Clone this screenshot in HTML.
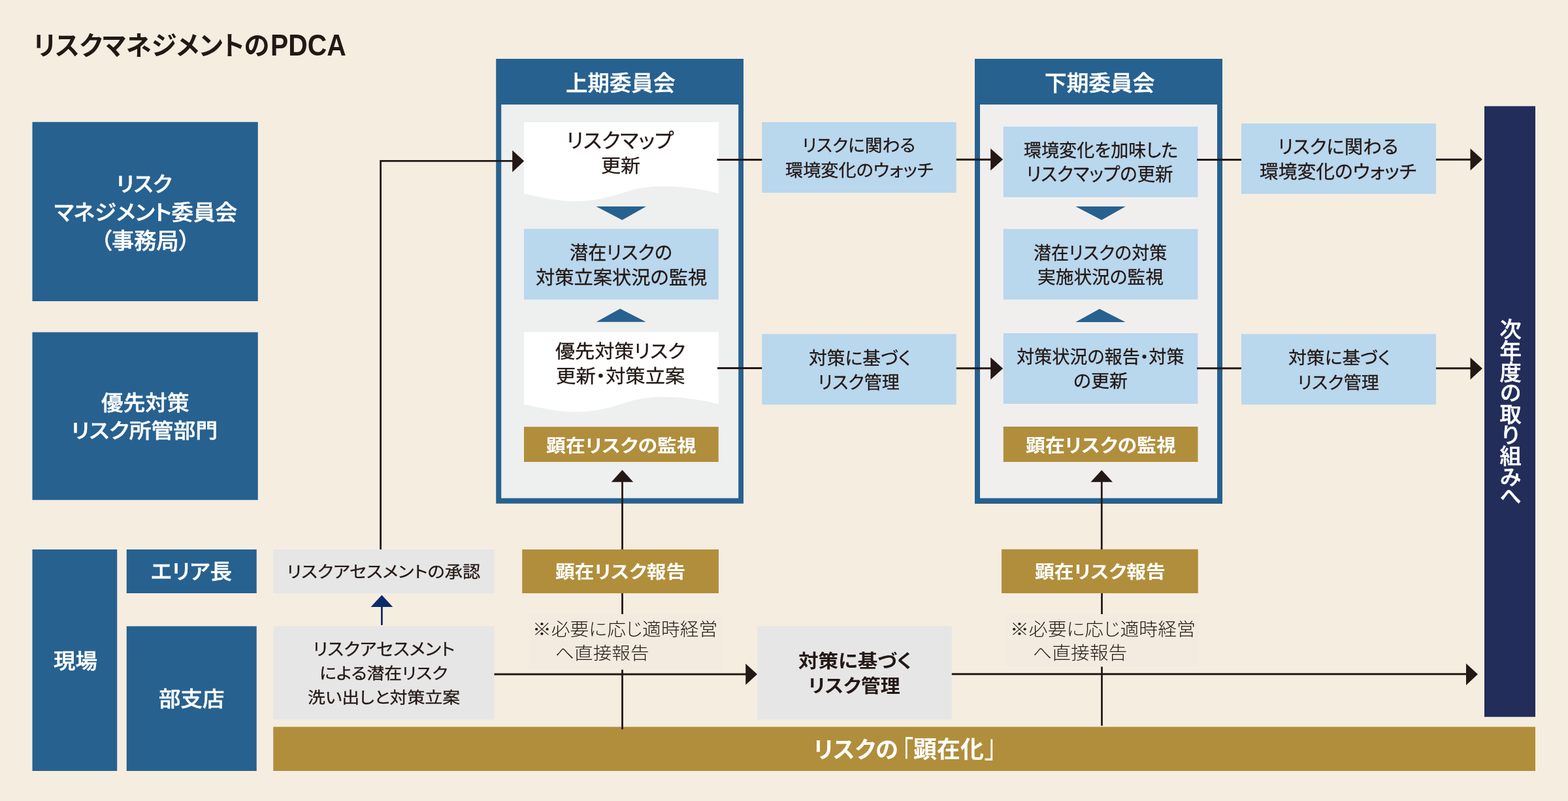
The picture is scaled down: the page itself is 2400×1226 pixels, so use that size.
<!DOCTYPE html>
<html lang="ja">
<head>
<meta charset="utf-8">
<title>リスクマネジメントのPDCA</title>
<style>
html,body{margin:0;padding:0;background:#f5ede0;}
body{width:2400px;height:1226px;overflow:hidden;position:relative;font-family:"Liberation Sans","Noto Sans CJK JP",sans-serif;}
#stage{will-change:transform;position:absolute;left:0;top:0;width:2400px;height:1226px;background:#f5ede0;overflow:hidden;}
#stage svg{position:absolute;left:0;top:0;}
.tb{margin:0;padding:0;font-size:16px;font-weight:400;}
.t{position:absolute;white-space:nowrap;line-height:1;transform-origin:0 0;font-feature-settings:"palt";margin:0;padding:0;}
.v{position:absolute;writing-mode:vertical-rl;white-space:nowrap;line-height:1;transform-origin:0 0;margin:0;padding:0;color:#fff;}

</style>
</head>
<body>
<div id="stage">
<svg width="2400" height="1226" viewBox="0 0 2400 1226" aria-hidden="true">
<rect x="49.5" y="186.75" width="345.25" height="274.25" fill="#27618f"/>
<rect x="49.5" y="508.5" width="345.25" height="256.75" fill="#27618f"/>
<rect x="49.5" y="841" width="129.75" height="339" fill="#27618f"/>
<rect x="193.75" y="841" width="199.0" height="67" fill="#27618f"/>
<rect x="193.75" y="958.5" width="199.0" height="221.5" fill="#27618f"/>
<rect x="418.25" y="841" width="338.25" height="67" fill="#e6e6e6"/>
<rect x="418.25" y="958.25" width="338.25" height="143.0" fill="#e6e6e6"/>
<rect x="1159.25" y="958.25" width="297.5" height="143.0" fill="#e6e6e6"/>
<rect x="799.25" y="841" width="300.75" height="67" fill="#b18e3c"/>
<rect x="1533" y="840.75" width="300.75" height="67.25" fill="#b18e3c"/>
<rect x="418.25" y="1112.5" width="1931.75" height="67.5" fill="#b18e3c"/>
<rect x="2272" y="162.5" width="78" height="934.75" fill="#222d5a"/>
<rect x="759.25" y="90" width="378.75" height="680.75" fill="#27618f"/>
<rect x="767.25" y="160" width="363.0" height="602.5" fill="#eeefef"/>
<rect x="1492" y="90" width="379" height="681" fill="#27618f"/>
<rect x="1500" y="160" width="363" height="602.5" fill="#f0efee"/>
<path fill="#fff" d="M802,187 H1100 V296 C1070.2,288.5 1040.4,285 1016.56,285 C974.84,285 956.96,295 939.08,299.5 C921.2,304 903.32,308 882.46,308 C852.66,308 825.84,301.5 802,296.5 Z"/>
<polygon points="912.5,316 989,316 952.4,336.8" fill="#27618f"/>
<rect x="802" y="350.25" width="297.75" height="108.25" fill="#b9d7ed"/>
<polygon points="912.6,492.8 988.8,492.8 949.2,472.6" fill="#27618f"/>
<path fill="#fff" d="M802,508.25 H1100 V618.5 C1070.2,611.0 1040.4,607.5 1016.56,607.5 C974.84,607.5 956.96,617.5 939.08,622.0 C921.2,626.5 903.32,630.5 882.46,630.5 C852.66,630.5 825.84,624.0 802,619.0 Z"/>
<rect x="802" y="653.25" width="297.75" height="53.75" fill="#b18e3c"/>
<rect x="1535.75" y="193.75" width="297.75" height="108.0" fill="#b9d7ed"/>
<polygon points="1646.25,316.1 1722.8,316.1 1686.2,336.8" fill="#27618f"/>
<rect x="1535.75" y="350.5" width="297.75" height="108.0" fill="#b9d7ed"/>
<polygon points="1646.3,492.9 1722.6,492.9 1683,472.8" fill="#27618f"/>
<rect x="1535.75" y="510" width="297.75" height="108" fill="#b9d7ed"/>
<rect x="1535.75" y="653" width="297.75" height="54" fill="#b18e3c"/>
<rect x="1166.25" y="187" width="297.5" height="108" fill="#b9d7ed"/>
<rect x="1166.25" y="511.25" width="297.5" height="108.0" fill="#b9d7ed"/>
<rect x="1900" y="189" width="298" height="107.75" fill="#b9d7ed"/>
<rect x="1900" y="511.25" width="298" height="108.0" fill="#b9d7ed"/>
<polyline points="582.6,841 582.6,246.45 785,246.45" fill="none" stroke="#231815" stroke-width="2.8" stroke-linejoin="miter"/>
<polygon points="784.2,229.9 802.2,246.6 784.2,263.4" fill="#231815"/>
<polyline points="1097.5,244.5 1166.25,244.5" fill="none" stroke="#231815" stroke-width="2.8" stroke-linejoin="miter"/>
<polyline points="1463.75,244.25 1517,244.25" fill="none" stroke="#231815" stroke-width="2.8" stroke-linejoin="miter"/>
<polygon points="1516.2,227.2 1535.1,244.1 1516.2,261" fill="#231815"/>
<polyline points="1832,244.5 1900,244.5" fill="none" stroke="#231815" stroke-width="2.8" stroke-linejoin="miter"/>
<polyline points="2198,244.25 2251,244.25" fill="none" stroke="#231815" stroke-width="2.8" stroke-linejoin="miter"/>
<polygon points="2250.5,227.2 2268.9,244.1 2250.5,261" fill="#231815"/>
<polyline points="1098,563.5 1166.25,563.5" fill="none" stroke="#231815" stroke-width="2.8" stroke-linejoin="miter"/>
<polyline points="1463.75,563.75 1517,563.75" fill="none" stroke="#231815" stroke-width="2.8" stroke-linejoin="miter"/>
<polygon points="1516.2,547 1535.1,564 1516.2,581" fill="#231815"/>
<polyline points="1832,563.75 1900,563.75" fill="none" stroke="#231815" stroke-width="2.8" stroke-linejoin="miter"/>
<polyline points="2198,563.75 2251,563.75" fill="none" stroke="#231815" stroke-width="2.8" stroke-linejoin="miter"/>
<polygon points="2250.5,547.2 2268.9,564.1 2250.5,581" fill="#231815"/>
<polyline points="952.5,841 952.5,737" fill="none" stroke="#231815" stroke-width="2.8" stroke-linejoin="miter"/>
<polygon points="935.75,737.75 969.25,737.75 952.5,719.25" fill="#231815"/>
<polyline points="1686.25,841 1686.25,737" fill="none" stroke="#231815" stroke-width="2.8" stroke-linejoin="miter"/>
<polygon points="1669.5,737.75 1703,737.75 1686.25,719.5" fill="#231815"/>
<polyline points="952.5,908 952.5,1116.25" fill="none" stroke="#231815" stroke-width="2.8" stroke-linejoin="miter"/>
<polyline points="1686.5,908 1686.5,1110.75" fill="none" stroke="#231815" stroke-width="2.8" stroke-linejoin="miter"/>
<polyline points="756.5,1032 1142,1032" fill="none" stroke="#231815" stroke-width="2.8" stroke-linejoin="miter"/>
<polygon points="1141.25,1015.75 1159,1032 1141.25,1048.25" fill="#231815"/>
<polyline points="1456.75,1031.75 2245,1031.75" fill="none" stroke="#231815" stroke-width="2.8" stroke-linejoin="miter"/>
<polygon points="2244,1015.5 2262,1032.1 2244,1048.75" fill="#231815"/>
<polyline points="584.4,956.8 584.4,928" fill="none" stroke="#0c2a6b" stroke-width="2.8" stroke-linejoin="miter"/>
<polygon points="567.5,929 601.25,929 584.4,910.75" fill="#0c2a6b"/>
<rect x="810" y="940" width="294.25" height="85" fill="#f3ebdf"/>
<rect x="1541.25" y="940" width="294.5" height="80.5" fill="#f3ebdf"/>
</svg>
<h1 class="tb" id="title">
<span class="t" id="t0" style="left:51.21px;top:49.69px;font-size:40.33px;font-weight:700;color:#231815;transform:scaleX(0.9711);">リスクマネジメントの</span>
<span class="t" id="t1" style="left:413.94px;top:46.59px;font-size:45.86px;font-weight:700;color:#231815;transform:scaleX(0.8905);">PDCA</span>
</h1>
<div class="tb" id="org1">
<span class="t" id="t2" style="left:177.69px;top:267.37px;font-size:31.59px;font-weight:500;color:#fff;transform:scaleX(1.0359);-webkit-text-stroke:0.5px #fff;">リスク</span>
<span class="t" id="t3" style="left:82.53px;top:309.99px;font-size:32.57px;font-weight:500;color:#fff;transform:scaleX(1.0279);-webkit-text-stroke:0.5px #fff;">マネジメント委員会</span>
<span class="t" id="t4" style="left:154.25px;top:352.31px;font-size:34.3px;font-weight:500;color:#fff;transform:scaleX(0.9965);-webkit-text-stroke:0.5px #fff;">（事務局）</span>
</div>
<div class="tb" id="org2">
<span class="t" id="t5" style="left:155.25px;top:602.21px;font-size:31.51px;font-weight:500;color:#fff;transform:scaleX(1.0682);-webkit-text-stroke:0.5px #fff;">優先対策</span>
<span class="t" id="t6" style="left:109.32px;top:643.78px;font-size:30.64px;font-weight:500;color:#fff;transform:scaleX(1.1068);-webkit-text-stroke:0.5px #fff;">リスク所管部門</span>
</div>
<div class="tb" id="genba">
<span class="t" id="t7" style="left:81.94px;top:997.25px;font-size:31.52px;font-weight:500;color:#fff;transform:scaleX(1.0658);-webkit-text-stroke:0.5px #fff;">現場</span>
</div>
<div class="tb" id="area">
<span class="t" id="t8" style="left:231.26px;top:860.2px;font-size:31.67px;font-weight:500;color:#fff;transform:scaleX(1.0547);-webkit-text-stroke:0.5px #fff;">エリア長</span>
</div>
<div class="tb" id="bushi">
<span class="t" id="t9" style="left:242.97px;top:1055.46px;font-size:31.47px;font-weight:500;color:#fff;transform:scaleX(1.0656);-webkit-text-stroke:0.5px #fff;">部支店</span>
</div>
<div class="tb" id="h1">
<span class="t" id="t10" style="left:865.86px;top:111.2px;font-size:33.09px;font-weight:500;color:#fff;transform:scaleX(1.0126);-webkit-text-stroke:0.5px #fff;">上期委員会</span>
</div>
<div class="tb" id="h2">
<span class="t" id="t11" style="left:1598.92px;top:110.81px;font-size:33.35px;font-weight:500;color:#fff;transform:scaleX(1.0105);-webkit-text-stroke:0.5px #fff;">下期委員会</span>
</div>
<div class="tb" id="f1a">
<span class="t" id="t12" style="left:867.13px;top:200.37px;font-size:30.48px;font-weight:400;color:#231815;transform:scaleX(1.0328);-webkit-text-stroke:0.3px #231815;">リスクマップ</span>
<span class="t" id="t13" style="left:919.55px;top:240.9px;font-size:27.91px;font-weight:400;color:#231815;transform:scaleX(1.0789);-webkit-text-stroke:0.3px #231815;">更新</span>
</div>
<div class="tb" id="f1b">
<span class="t" id="t14" style="left:872.0px;top:372.6px;font-size:28.56px;font-weight:400;color:#231815;transform:scaleX(0.9856);-webkit-text-stroke:0.3px #231815;">潜在リスクの</span>
<span class="t" id="t15" style="left:820.32px;top:410.93px;font-size:28.86px;font-weight:400;color:#231815;transform:scaleX(1.014);-webkit-text-stroke:0.3px #231815;">対策立案状況の監視</span>
</div>
<div class="tb" id="f1c">
<span class="t" id="t16" style="left:849.65px;top:524.06px;font-size:28.76px;font-weight:400;color:#231815;transform:scaleX(1.0476);-webkit-text-stroke:0.3px #231815;">優先対策リスク</span>
<span class="t" id="t17" style="left:851.1px;top:562.2px;font-size:28.89px;font-weight:400;color:#231815;transform:scaleX(1.052);-webkit-text-stroke:0.3px #231815;">更新・対策立案</span>
</div>
<div class="tb" id="f1d">
<span class="t" id="t18" style="left:836.03px;top:669.44px;font-size:27.75px;font-weight:700;color:#fff;transform:scaleX(1.0774);">顕在リスクの監視</span>
</div>
<div class="tb" id="w1">
<span class="t" id="t19" style="left:1227.82px;top:210.22px;font-size:26.27px;font-weight:400;color:#231815;transform:scaleX(1.0179);-webkit-text-stroke:0.3px #231815;">リスクに関わる</span>
<span class="t" id="t20" style="left:1201.76px;top:248.61px;font-size:25.66px;font-weight:400;color:#231815;transform:scaleX(1.058);-webkit-text-stroke:0.3px #231815;">環境変化のウォッチ</span>
</div>
<div class="tb" id="m1">
<span class="t" id="t21" style="left:1238.21px;top:535.11px;font-size:27.09px;font-weight:400;color:#231815;transform:scaleX(1.0264);-webkit-text-stroke:0.3px #231815;">対策に基づく</span>
<span class="t" id="t22" style="left:1252.08px;top:572.03px;font-size:27.13px;font-weight:400;color:#231815;transform:scaleX(0.9959);-webkit-text-stroke:0.3px #231815;">リスク管理</span>
</div>
<div class="tb" id="f2a">
<span class="t" id="t23" style="left:1567.04px;top:216.83px;font-size:27.25px;font-weight:400;color:#231815;transform:scaleX(0.9927);-webkit-text-stroke:0.3px #231815;">環境変化を加味した</span>
<span class="t" id="t24" style="left:1570.78px;top:252.93px;font-size:28.65px;font-weight:400;color:#231815;transform:scaleX(0.9583);-webkit-text-stroke:0.3px #231815;">リスクマップの更新</span>
</div>
<div class="tb" id="f2b">
<span class="t" id="t25" style="left:1582.16px;top:374.12px;font-size:27.73px;font-weight:400;color:#231815;transform:scaleX(0.9714);-webkit-text-stroke:0.3px #231815;">潜在リスクの対策</span>
<span class="t" id="t26" style="left:1587.85px;top:411.31px;font-size:27.72px;font-weight:400;color:#231815;transform:scaleX(0.9991);-webkit-text-stroke:0.3px #231815;">実施状況の監視</span>
</div>
<div class="tb" id="f2c">
<span class="t" id="t27" style="left:1556.02px;top:532.72px;font-size:27.64px;font-weight:400;color:#231815;transform:scaleX(0.9813);-webkit-text-stroke:0.3px #231815;">対策状況の報告・対策</span>
<span class="t" id="t28" style="left:1643.2px;top:569.96px;font-size:27.5px;font-weight:400;color:#231815;transform:scaleX(1.0192);-webkit-text-stroke:0.3px #231815;">の更新</span>
</div>
<div class="tb" id="f2d">
<span class="t" id="t29" style="left:1569.88px;top:668.46px;font-size:28.8px;font-weight:700;color:#fff;transform:scaleX(1.0395);">顕在リスクの監視</span>
</div>
<div class="tb" id="w2">
<span class="t" id="t30" style="left:1955.8px;top:211.08px;font-size:28.65px;font-weight:400;color:#231815;transform:scaleX(0.9923);-webkit-text-stroke:0.3px #231815;">リスクに関わる</span>
<span class="t" id="t31" style="left:1928.19px;top:248.83px;font-size:28.2px;font-weight:400;color:#231815;transform:scaleX(1.0198);-webkit-text-stroke:0.3px #231815;">環境変化のウォッチ</span>
</div>
<div class="tb" id="m2">
<span class="t" id="t32" style="left:1971.59px;top:534.95px;font-size:26.7px;font-weight:400;color:#231815;transform:scaleX(1.043);-webkit-text-stroke:0.3px #231815;">対策に基づく</span>
<span class="t" id="t33" style="left:1986.24px;top:572.78px;font-size:26.15px;font-weight:400;color:#231815;transform:scaleX(1.0332);-webkit-text-stroke:0.3px #231815;">リスク管理</span>
</div>
<div class="tb" id="g1">
<span class="t" id="t34" style="left:439.04px;top:864.07px;font-size:24.53px;font-weight:400;color:#231815;transform:scaleX(1.1115);-webkit-text-stroke:0.3px #231815;">リスクアセスメントの承認</span>
</div>
<div class="tb" id="g2">
<span class="t" id="t35" style="left:478.77px;top:982.22px;font-size:25.89px;font-weight:400;color:#231815;transform:scaleX(1.0616);-webkit-text-stroke:0.3px #231815;">リスクアセスメント</span>
<span class="t" id="t36" style="left:488.97px;top:1018.88px;font-size:24.23px;font-weight:400;color:#231815;transform:scaleX(1.1083);-webkit-text-stroke:0.3px #231815;">による潜在リスク</span>
<span class="t" id="t37" style="left:470.89px;top:1056.15px;font-size:24.32px;font-weight:400;color:#231815;transform:scaleX(1.1063);-webkit-text-stroke:0.3px #231815;">洗い出しと対策立案</span>
</div>
<div class="tb" id="g3">
<span class="t" id="t38" style="left:1221.89px;top:997.79px;font-size:28.95px;font-weight:700;color:#231815;transform:scaleX(1.0562);">対策に基づく</span>
<span class="t" id="t39" style="left:1237.01px;top:1037.23px;font-size:27.96px;font-weight:700;color:#231815;transform:scaleX(1.0713);">リスク管理</span>
</div>
<div class="tb" id="r1">
<span class="t" id="t40" style="left:850.04px;top:862.17px;font-size:27.72px;font-weight:700;color:#fff;transform:scaleX(1.074);">顕在リスク報告</span>
</div>
<div class="tb" id="r2">
<span class="t" id="t41" style="left:1583.93px;top:862.34px;font-size:27.29px;font-weight:700;color:#fff;transform:scaleX(1.094);">顕在リスク報告</span>
</div>
<div class="tb" id="n1">
<span class="t" id="t42" style="left:815.16px;top:950.15px;font-size:27.28px;font-weight:300;color:#231815;transform:scaleX(1.0564);">※必要に応じ適時経営</span>
<span class="t" id="t43" style="left:849.79px;top:987.41px;font-size:26.39px;font-weight:300;color:#231815;transform:scaleX(1.0849);">へ直接報告</span>
</div>
<div class="tb" id="n2">
<span class="t" id="t44" style="left:1545.96px;top:949.73px;font-size:27.17px;font-weight:300;color:#231815;transform:scaleX(1.0626);">※必要に応じ適時経営</span>
<span class="t" id="t45" style="left:1581.0px;top:987.34px;font-size:26.72px;font-weight:300;color:#231815;transform:scaleX(1.0762);">へ直接報告</span>
</div>
<div class="tb" id="bar">
<span class="t" id="t46" style="left:1245.09px;top:1131.34px;font-size:34.95px;font-weight:700;color:#fff;transform:scaleX(1.0077);">リスクの</span>
<span class="t" id="t47" style="left:1379.54px;top:1129.25px;font-size:50.05px;font-weight:400;color:#fff;transform:scaleX(0.7004);">「</span>
<span class="t" id="t48" style="left:1398.19px;top:1130.31px;font-size:36.55px;font-weight:700;color:#fff;transform:scaleX(0.9838);">顕在化</span>
<span class="t" id="t49" style="left:1506.74px;top:1118.08px;font-size:48.94px;font-weight:400;color:#fff;transform:scaleX(0.7506);">」</span>
</div>
<div class="tb" id="next"><span class="v" id="t50" style="left:2292.30px;top:486.88px;font-size:33.26px;font-weight:500;font-feature-settings:'vpal';transform:scaleY(0.9914);-webkit-text-stroke:0.5px #fff;">次年度の取り組みへ</span></div>
</div>
</body>
</html>
